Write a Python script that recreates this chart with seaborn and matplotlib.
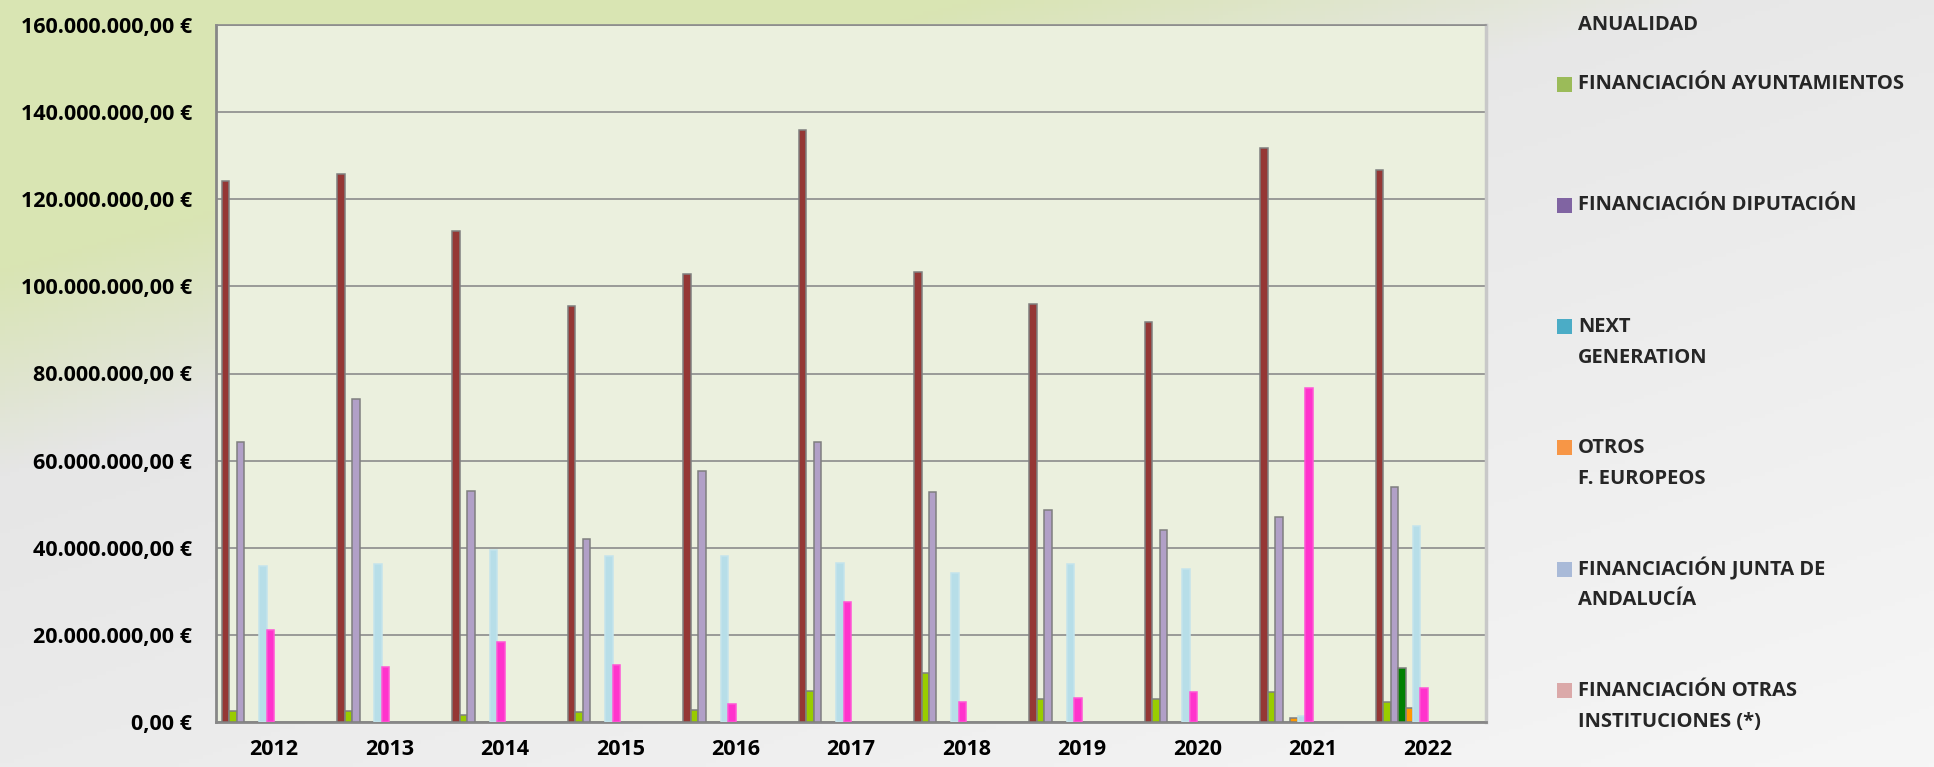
import numpy as np
import pandas as pd
import matplotlib
matplotlib.use("Agg")
import matplotlib.pyplot as plt
from matplotlib.patches import Rectangle
from matplotlib.colors import to_hex
from matplotlib.ticker import FuncFormatter, FixedLocator
import seaborn as sns

years = [2012, 2013, 2014, 2015, 2016, 2017, 2018, 2019, 2020, 2021, 2022]

series = [
    "DIPUTACIÓN ANUALIDAD",
    "FINANCIACIÓN AYUNTAMIENTOS",
    "FINANCIACIÓN DIPUTACIÓN",
    "NEXT GENERATION",
    "OTROS F. EUROPEOS",
    "FINANCIACIÓN JUNTA DE ANDALUCÍA",
    "FINANCIACIÓN OTRAS INSTITUCIONES (*)",
]

# millions of euros (None = no bar)
anualidad = [124.1, 125.9, 112.6, 95.6, 102.9, 135.9, 103.2, 95.9, 91.9, 131.8, 126.8]
ayuntamientos = [2.6, 2.6, 1.7, 2.3, 2.8, 7.2, 11.2, 5.2, 5.3, 6.8, 4.5]
diputacion = [64.2, 74.1, 53.1, 41.9, 57.6, 64.2, 52.9, 48.7, 44.1, 47.0, 54.0]
next_gen = [None, None, None, None, None, None, None, None, None, None, 12.4]
otros_eu = [None, None, None, None, None, None, None, None, None, 1.0, 3.2]
junta = [35.8, 36.2, 39.4, 38.2, 38.0, 36.6, 34.3, 36.2, 35.1, 1.4, 44.9]
otras_inst = [21.1, 12.7, 18.3, 13.0, 4.2, 27.6, 4.7, 5.6, 7.0, 76.6, 7.8]

values = [anualidad, ayuntamientos, diputacion, next_gen, otros_eu, junta, otras_inst]

bar_colors = ["#953735", "#99CC00", "#B1A0C7", "#008000", "#FF9900", "#B7DEE8", "#FF33CC"]
edge_colors = ["#7F7F7F", "#7F7F7F", "#7F7F7F", "#7F7F7F", "#7F7F7F", "#C4E4EC", "#FF55D5"]

legend_labels = [
    "DIPUTACIÓN\nANUALIDAD",
    "FINANCIACIÓN AYUNTAMIENTOS",
    "FINANCIACIÓN DIPUTACIÓN",
    "NEXT\nGENERATION",
    "OTROS\nF. EUROPEOS",
    "FINANCIACIÓN JUNTA DE\nANDALUCÍA",
    "FINANCIACIÓN OTRAS\nINSTITUCIONES (*)",
]
legend_colors = [None, "#9BBB59", "#8064A2", "#4BACC6", "#F79646", "#A9BAD8", "#DBA9A9"]

rows = []
for name, vals in zip(series, values):
    for y, v in zip(years, vals):
        rows.append({"year": y, "serie": name, "euros": np.nan if v is None else v * 1e6})
df = pd.DataFrame(rows)

sns.set_style("white")
plt.rcParams["font.family"] = ["Open Sans", "DejaVu Sans"]
plt.rcParams["font.weight"] = "bold"

W, H = 1934, 767
fig = plt.figure(figsize=(W / 100, H / 100), dpi=100)

# background gradient (green top-left fading to light grey)
bg = fig.add_axes([0, 0, 1, 1], zorder=-10)
gx, gy = np.meshgrid(np.linspace(0, 1, 400), np.linspace(0, 1, 200))
diag = gy + 0.7 * gx
g = np.clip((0.62 - diag) / 0.27, 0, 1)[..., None]
grey = (224 + 22 * np.clip(0.5 * gx + 0.6 * gy - 0.1, 0, 1))[..., None] * np.ones(3)
green = np.array([217, 229, 179])
img = (g * green + (1 - g) * grey) / 255
bg.imshow(img, aspect="auto", extent=[0, 1, 0, 1], origin="upper")
bg.set_xlim(0, 1)
bg.set_ylim(0, 1)
bg.axis("off")

ax = fig.add_axes([216.4 / W, 1 - 722 / H, (1485.7 - 216.4) / W, (722 - 25) / H])
ax.set_facecolor("#EBF0DE")

group_w = 0.4536
sns.barplot(data=df, x="year", y="euros", hue="serie", hue_order=series,
            palette=dict(zip(series, bar_colors)), saturation=1, native_scale=True,
            width=group_w, errorbar=None, legend=False, linewidth=1.1,
            edgecolor="#7F7F7F", ax=ax, zorder=3)

# per-series outline, matched on fill colour
edge_map = {to_hex(c).lower(): e for c, e in zip(bar_colors, edge_colors)}
for p in ax.patches:
    ec = edge_map.get(to_hex(p.get_facecolor()).lower())
    if ec:
        p.set_edgecolor(ec)

offset = 0.2728
ax.set_xlim(years[0] - offset, years[-1] + 1 - offset)
ax.xaxis.set_major_locator(FixedLocator([y - offset for y in years] + [years[-1] + 1 - offset]))
ax.xaxis.set_major_formatter(FuncFormatter(lambda v, p: ""))
ax.set_xticks([y - offset + 0.5 for y in years], [str(y) for y in years], minor=True)
ax.tick_params(axis="x", which="major", direction="out", length=6, width=1.5, color="#878787")
ax.tick_params(axis="x", which="minor", length=0, pad=12, labelsize=15.5)

ax.set_ylim(0, 160e6)
ax.set_yticks(np.arange(0, 160e6 + 1, 20e6))
ax.yaxis.set_major_formatter(FuncFormatter(
    lambda v, p: f"{v:,.2f}".replace(",", "X").replace(".", ",").replace("X", ".") + " €"))
ax.tick_params(axis="y", direction="out", length=6.5, width=1.5, color="#878787",
               pad=11, labelsize=15.5)
for lab in ax.get_xticklabels(minor=True) + ax.get_yticklabels():
    lab.set_fontweight("bold")
    lab.set_color("black")

ax.grid(axis="y", color="#8C8C8C", linewidth=1.2, zorder=0)
ax.set_axisbelow(True)
for side in ["left", "bottom"]:
    ax.spines[side].set_color("#878787")
    ax.spines[side].set_linewidth(2)
ax.spines["top"].set_color("#8C8C8C")
ax.spines["top"].set_linewidth(1.2)
ax.spines["right"].set_color("#C8C8C8")
ax.spines["right"].set_linewidth(2.5)
ax.set_xlabel("")
ax.set_ylabel("")

# legend, drawn as in the source: fixed slots, marker on first line
step = 121.3
line_h = 31
for i, (lab, col) in enumerate(zip(legend_labels, legend_colors)):
    y_line = 84 + (i - 1) * step
    if i == 0:
        y_line = 25 - line_h
    if col is not None:
        fig.patches.append(Rectangle((1557 / W, 1 - (y_line + 7.5) / H), 15 / W, 15 / H,
                                     transform=fig.transFigure, facecolor=col,
                                     edgecolor="none"))
    for j, part in enumerate(lab.split("\n")):
        fig.text(1578 / W, 1 - (y_line + j * line_h) / H, part, fontsize=14.5,
                 fontweight="bold", va="center", ha="left")

fig.savefig("out.png", dpi=100)
